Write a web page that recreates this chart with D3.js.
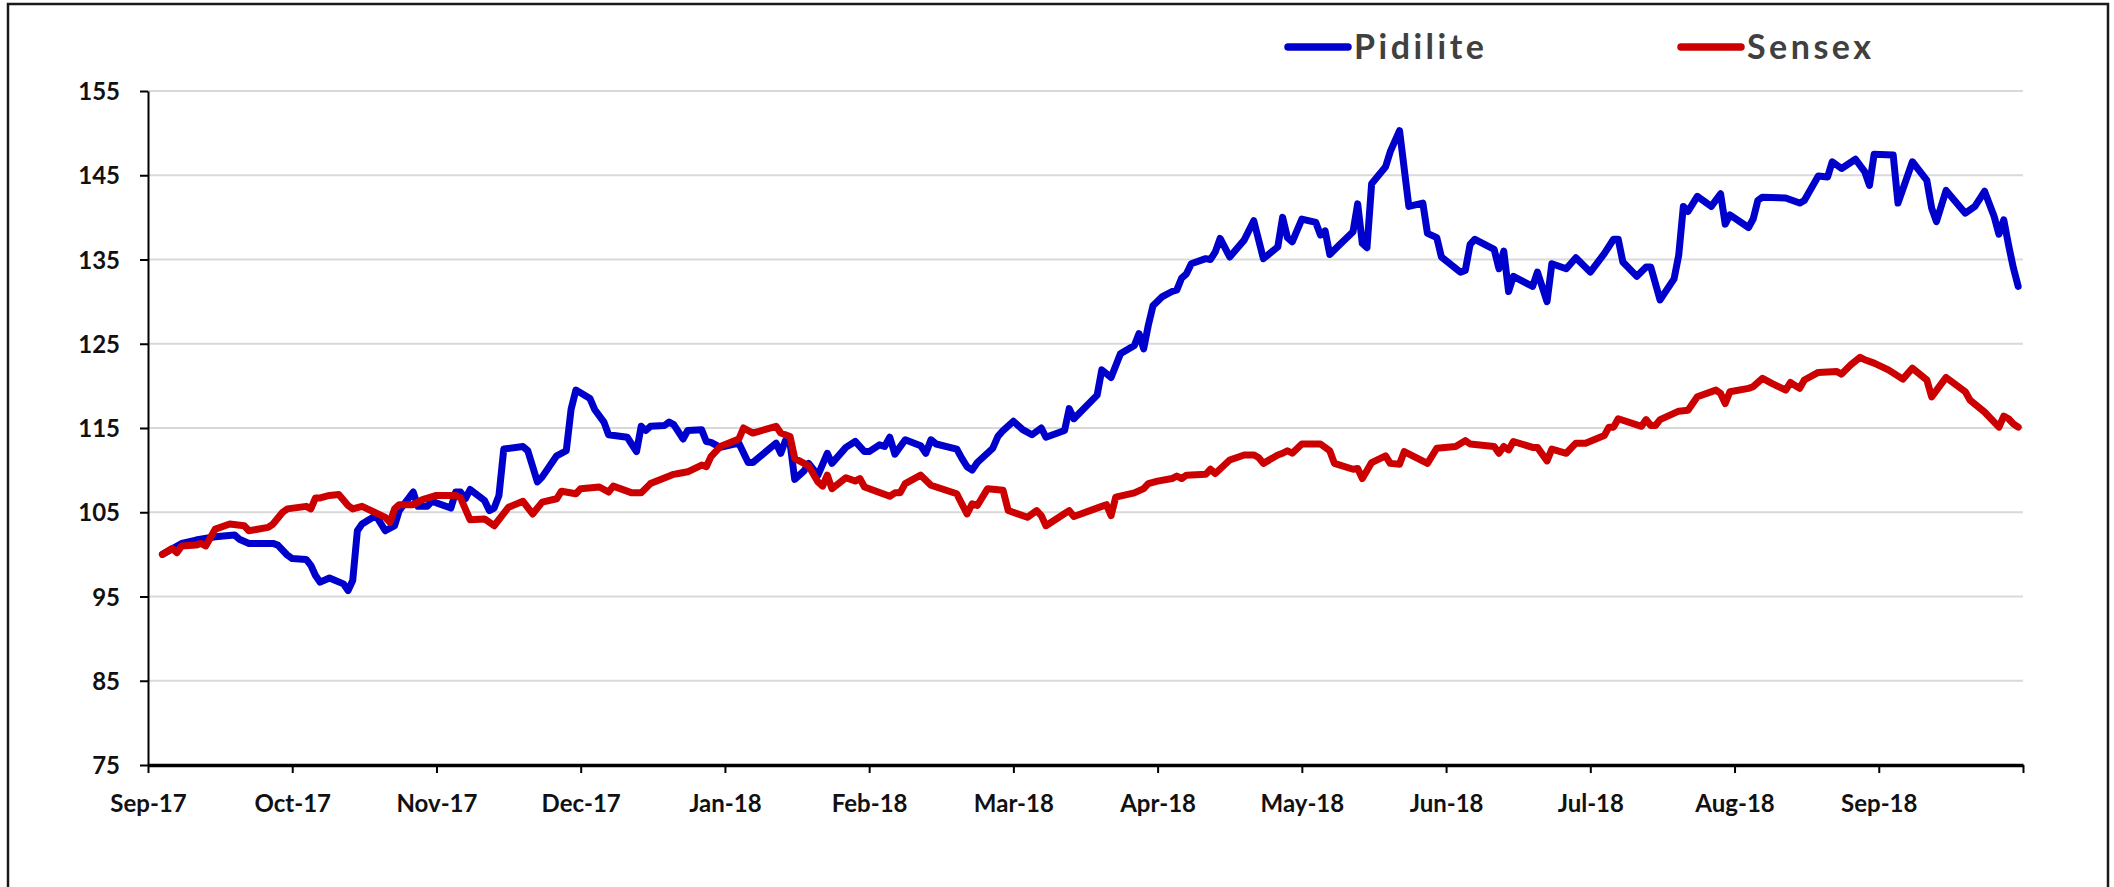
<!DOCTYPE html>
<html>
<head>
<meta charset="utf-8">
<script src="https://cdn.jsdelivr.net/npm/d3@7"></script>
<style>
  body { margin: 0; background: #fff; }
  svg { display: block; font-family: Lato, "Open Sans", sans-serif; }
</style>
</head>
<body>
<div id="chart"></div>
<script>
// Data (rebased to 100), one row per month

const pidiliteDates = [
  '2017-09-04','2017-09-08','2017-09-11','2017-09-15','2017-09-19','2017-09-20','2017-09-22','2017-09-27','2017-09-28','2017-09-30',
  '2017-10-01','2017-10-04','2017-10-05','2017-10-06','2017-10-07','2017-10-09','2017-10-12','2017-10-13','2017-10-14','2017-10-15','2017-10-16','2017-10-19','2017-10-21','2017-10-23','2017-10-24','2017-10-27','2017-10-28','2017-10-30','2017-10-31',
  '2017-11-04','2017-11-05','2017-11-06','2017-11-07','2017-11-08','2017-11-11','2017-11-12','2017-11-13','2017-11-14','2017-11-15','2017-11-19','2017-11-20','2017-11-22','2017-11-23','2017-11-26','2017-11-28','2017-11-29','2017-11-30',
  '2017-12-03','2017-12-04','2017-12-06','2017-12-07','2017-12-11','2017-12-13','2017-12-14','2017-12-15','2017-12-16','2017-12-19','2017-12-20','2017-12-21','2017-12-23','2017-12-24','2017-12-27','2017-12-28','2017-12-29','2017-12-31',
  '2018-01-04','2018-01-06','2018-01-07','2018-01-12','2018-01-13','2018-01-14','2018-01-15','2018-01-16','2018-01-18','2018-01-19','2018-01-21','2018-01-23','2018-01-24','2018-01-27','2018-01-29','2018-01-31',
  '2018-02-01','2018-02-03','2018-02-04','2018-02-05','2018-02-06','2018-02-08','2018-02-11','2018-02-12','2018-02-13','2018-02-14','2018-02-18','2018-02-19','2018-02-20','2018-02-21','2018-02-22','2018-02-25','2018-02-26','2018-02-27',
  '2018-03-01','2018-03-03','2018-03-05','2018-03-07','2018-03-08','2018-03-12','2018-03-13','2018-03-14','2018-03-19','2018-03-20','2018-03-22','2018-03-24','2018-03-27','2018-03-28','2018-03-29','2018-03-30','2018-03-31',
  '2018-04-02','2018-04-04','2018-04-05','2018-04-06','2018-04-07','2018-04-08','2018-04-11','2018-04-12','2018-04-13','2018-04-14','2018-04-16','2018-04-19','2018-04-21','2018-04-23','2018-04-26','2018-04-27','2018-04-28','2018-04-29',
  '2018-05-01','2018-05-04','2018-05-05','2018-05-06','2018-05-07','2018-05-09','2018-05-12','2018-05-13','2018-05-14','2018-05-15','2018-05-16','2018-05-19','2018-05-20','2018-05-22','2018-05-24','2018-05-27','2018-05-28','2018-05-30','2018-05-31',
  '2018-06-04','2018-06-05','2018-06-06','2018-06-07','2018-06-11','2018-06-12','2018-06-13','2018-06-14','2018-06-15','2018-06-19','2018-06-20','2018-06-22','2018-06-23','2018-06-26','2018-06-28',
  '2018-07-01','2018-07-04','2018-07-06','2018-07-07','2018-07-08','2018-07-11','2018-07-13','2018-07-14','2018-07-16','2018-07-19','2018-07-20','2018-07-21','2018-07-22','2018-07-24','2018-07-27','2018-07-29','2018-07-30','2018-07-31',
  '2018-08-04','2018-08-05','2018-08-06','2018-08-07','2018-08-12','2018-08-15','2018-08-16','2018-08-19','2018-08-21','2018-08-22','2018-08-24','2018-08-27','2018-08-29','2018-08-30','2018-08-31',
  '2018-09-04','2018-09-05','2018-09-08','2018-09-11','2018-09-12','2018-09-13','2018-09-15','2018-09-19','2018-09-21','2018-09-23','2018-09-25','2018-09-26','2018-09-27','2018-09-28','2018-09-29','2018-09-30'
];
const pidiliteValues = [
  100.0,101.3,101.7,102.1,102.3,101.8,101.3,101.3,101.1,99.9,
  99.5,99.4,98.7,97.5,96.7,97.2,96.5,95.7,96.9,102.8,103.6,104.6,102.8,103.4,105.2,107.4,105.7,105.7,106.3,
  105.5,107.4,107.4,106.6,107.7,106.4,105.2,105.5,107.0,112.5,112.8,112.3,108.6,109.2,111.7,112.3,117.2,119.5,
  118.5,117.2,115.7,114.2,113.9,112.2,115.2,114.7,115.2,115.3,115.7,115.4,113.7,114.7,114.8,113.4,113.3,112.7,
  113.2,110.9,110.9,113.2,112.0,113.5,113.2,108.9,109.9,110.8,109.4,112.0,110.8,112.7,113.4,112.2,
  112.2,113.0,112.8,113.9,111.9,113.6,112.9,112.0,113.6,113.1,112.5,111.4,110.4,110.0,110.9,112.6,114.0,114.7,
  115.8,114.8,114.2,115.0,113.9,114.7,117.3,116.1,118.9,121.9,121.0,123.8,124.8,126.2,124.4,127.2,129.5,
  130.6,131.2,131.4,132.8,133.3,134.5,135.1,135.0,135.9,137.5,135.3,137.3,139.6,135.1,136.5,140.0,137.6,137.1,
  139.8,139.4,137.9,138.4,135.6,136.7,138.3,141.6,136.9,136.4,144.0,146.0,147.8,150.3,141.3,141.7,138.1,137.6,135.3,
  133.5,133.7,136.8,137.4,136.2,133.9,136.0,131.2,133.0,131.8,133.5,130.0,134.5,133.9,135.2,
  133.5,135.7,137.4,137.4,134.7,133.0,134.1,134.1,130.2,132.7,135.5,141.3,140.7,142.5,141.3,142.8,139.2,140.3,
  138.8,139.8,142.0,142.4,142.3,141.7,142.0,144.9,144.8,146.6,145.8,146.9,145.4,143.8,147.5,
  147.4,141.7,146.6,144.4,141.1,139.5,143.2,140.5,141.3,143.1,140.1,138.0,139.7,136.7,134.0,131.8
];

const sensexDates = [
  '2017-09-04','2017-09-06','2017-09-07','2017-09-08','2017-09-11','2017-09-12','2017-09-13','2017-09-15','2017-09-18','2017-09-21','2017-09-22','2017-09-26','2017-09-27','2017-09-29','2017-09-30',
  '2017-10-04','2017-10-05','2017-10-06','2017-10-07','2017-10-09','2017-10-11','2017-10-13','2017-10-14','2017-10-16','2017-10-21','2017-10-22','2017-10-23','2017-10-24','2017-10-27','2017-10-29',
  '2017-11-01','2017-11-05','2017-11-06','2017-11-08','2017-11-11','2017-11-13','2017-11-16','2017-11-19','2017-11-21','2017-11-23','2017-11-26','2017-11-27','2017-11-30',
  '2017-12-01','2017-12-05','2017-12-07','2017-12-08','2017-12-12','2017-12-14','2017-12-16','2017-12-21','2017-12-22','2017-12-24','2017-12-27','2017-12-28','2017-12-29','2017-12-31',
  '2018-01-04','2018-01-05','2018-01-07','2018-01-12','2018-01-13','2018-01-15','2018-01-16','2018-01-19','2018-01-21','2018-01-22','2018-01-23','2018-01-24','2018-01-27','2018-01-29','2018-01-30','2018-01-31',
  '2018-02-05','2018-02-06','2018-02-07','2018-02-08','2018-02-11','2018-02-13','2018-02-18','2018-02-19','2018-02-20','2018-02-21','2018-02-22','2018-02-24','2018-02-27','2018-02-28',
  '2018-03-04','2018-03-06','2018-03-07','2018-03-08','2018-03-13','2018-03-14','2018-03-20','2018-03-21','2018-03-22','2018-03-23','2018-03-27','2018-03-29','2018-03-30',
  '2018-04-01','2018-04-04','2018-04-05','2018-04-06','2018-04-07','2018-04-11','2018-04-12','2018-04-13','2018-04-16','2018-04-19','2018-04-21','2018-04-22','2018-04-23','2018-04-26','2018-04-27','2018-04-28','2018-04-29',
  '2018-05-01','2018-05-05','2018-05-07','2018-05-08','2018-05-12','2018-05-13','2018-05-14','2018-05-16','2018-05-19','2018-05-20','2018-05-22','2018-05-23','2018-05-28','2018-05-30',
  '2018-06-03','2018-06-05','2018-06-06','2018-06-11','2018-06-12','2018-06-13','2018-06-14','2018-06-15','2018-06-19','2018-06-20','2018-06-22','2018-06-23','2018-06-26','2018-06-28','2018-06-30',
  '2018-07-04','2018-07-05','2018-07-06','2018-07-07','2018-07-12','2018-07-13','2018-07-14','2018-07-15','2018-07-16','2018-07-20','2018-07-22','2018-07-24','2018-07-28','2018-07-29','2018-07-30','2018-07-31',
  '2018-08-04','2018-08-05','2018-08-07','2018-08-09','2018-08-12','2018-08-13','2018-08-15','2018-08-16','2018-08-19','2018-08-23','2018-08-24','2018-08-26','2018-08-28','2018-08-29','2018-08-31',
  '2018-09-03','2018-09-06','2018-09-08','2018-09-11','2018-09-12','2018-09-15','2018-09-19','2018-09-20','2018-09-23','2018-09-26','2018-09-27','2018-09-28','2018-09-29','2018-09-30'
];
const sensexValues = [
  100.0,100.7,100.2,101.0,101.1,101.3,101.0,103.0,103.6,103.4,102.8,103.2,103.6,105.0,105.4,
  105.7,105.4,106.7,106.7,107.0,107.1,105.8,105.4,105.7,104.4,103.8,105.4,105.9,105.9,106.5,
  107.0,107.0,106.7,104.1,104.2,103.4,105.6,106.3,104.8,106.2,106.6,107.5,107.2,
  107.8,108.0,107.4,108.1,107.3,107.3,108.4,109.5,109.6,109.8,110.6,110.4,111.6,112.8,
  113.7,115.0,114.4,115.2,114.4,114.0,111.4,110.5,108.6,108.1,109.4,107.8,109.1,108.7,109.0,108.0,
  106.9,107.3,107.3,108.4,109.4,108.2,107.2,106.0,104.8,106.0,105.8,107.8,107.6,105.2,
  104.4,105.2,104.6,103.4,105.2,104.5,105.7,105.9,104.6,106.8,107.3,107.8,108.4,
  108.7,109.0,109.3,109.0,109.4,109.5,110.1,109.6,111.2,111.8,111.8,111.5,110.8,111.8,112.0,112.3,112.0,
  113.1,113.1,112.3,110.8,110.1,110.2,109.0,110.9,111.7,110.8,110.7,112.2,110.8,112.6,
  112.8,113.5,113.1,112.8,112.0,112.8,112.4,113.4,112.7,112.7,111.1,112.5,112.0,113.2,113.2,
  114.1,115.1,115.1,116.1,115.2,116.0,115.3,115.3,116.0,117.0,117.1,118.7,119.5,119.1,117.9,119.3,
  119.7,119.9,120.9,120.3,119.5,120.4,119.7,120.7,121.6,121.7,121.4,122.5,123.4,123.1,122.7,
  121.9,120.8,122.1,120.7,118.7,121.0,119.3,118.3,116.9,115.1,116.4,116.1,115.5,115.1
];

const yTickValues = [75, 85, 95, 105, 115, 125, 135, 145, 155];
const seriesNames = ['Pidilite', 'Sensex'];
const seriesColors = ['#0000CC', '#CC0000'];

// Layout

const width = 2114;
const height = 887;
const margin = { top: 91, right: 91, bottom: 122, left: 148 };
const chartWidth = width - margin.left - margin.right;
const chartHeight = height - margin.top - margin.bottom;

const parseDate = d3.timeParse('%Y-%m-%d');
const formatMonth = d3.timeFormat('%b-%y');

const series = [
    { name: seriesNames[0], color: seriesColors[0],
      values: d3.zip(pidiliteDates, pidiliteValues).map(([d, v]) => ({ date: parseDate(d), value: v })) },
    { name: seriesNames[1], color: seriesColors[1],
      values: d3.zip(sensexDates, sensexValues).map(([d, v]) => ({ date: parseDate(d), value: v })) }
];

// month boundaries, Sep-17 .. Oct-18; the original axis spaces every month equally
const monthStarts = d3.timeMonth.range(new Date(2017, 8, 1), new Date(2018, 9, 2));

const xScale = d3.scaleTime()
    .domain(monthStarts)
    .range(monthStarts.map((d, i) => i * chartWidth / (monthStarts.length - 1)));
const yScale = d3.scaleLinear()
    .domain([d3.min(yTickValues), d3.max(yTickValues)])
    .range([chartHeight, 0]);

const svg = d3.select('#chart')
    .append('svg')
    .attr('width', width)
    .attr('height', height);

// outer frame (bottom edge falls outside the picture)
svg.append('rect')
    .attr('x', 8)
    .attr('y', 4)
    .attr('width', 2100)
    .attr('height', 920)
    .attr('fill', 'none')
    .attr('stroke', '#1a1a1a')
    .attr('stroke-width', 2.5);

const chart = svg.append('g')
    .attr('transform', `translate(${margin.left},${margin.top})`);

// gridlines
chart.append('g')
    .selectAll('line')
    .data(yTickValues.slice(1))
    .join('line')
    .attr('x1', 0)
    .attr('x2', chartWidth)
    .attr('y1', d => yScale(d))
    .attr('y2', d => yScale(d))
    .attr('stroke', '#d9d9d9')
    .attr('stroke-width', 2);

// y axis
const yAxisG = chart.append('g')
    .call(d3.axisLeft(yScale)
        .tickValues(yTickValues)
        .tickSize(8)
        .tickSizeOuter(0)
        .tickPadding(20));

// x axis
const xAxisG = chart.append('g')
    .attr('transform', `translate(0,${chartHeight})`)
    .call(d3.axisBottom(xScale)
        .tickValues(monthStarts)
        .tickFormat((d, i) => i < monthStarts.length - 1 ? formatMonth(d) : '')
        .tickSize(8)
        .tickSizeOuter(0)
        .tickPadding(22));

[yAxisG, xAxisG].forEach(g => {
    g.attr('font-family', 'Lato, "Open Sans", sans-serif')
        .attr('font-size', 24)
        .attr('font-weight', 'bold');
    g.selectAll('text').attr('fill', '#111');
    g.selectAll('line').attr('stroke', '#000').attr('stroke-width', 2);
    g.select('.domain').attr('stroke', '#000').attr('stroke-width', 2);
});
xAxisG.select('.domain').attr('stroke-width', 3.5);
yAxisG.selectAll('.tick text').attr('dy', '0.36em');

// lines
const line = d3.line()
    .x(d => xScale(d.date))
    .y(d => yScale(d.value));

chart.append('g')
    .selectAll('path')
    .data(series)
    .join('path')
    .attr('d', d => line(d.values))
    .attr('fill', 'none')
    .attr('stroke', d => d.color)
    .attr('stroke-width', 7)
    .attr('stroke-linejoin', 'round')
    .attr('stroke-linecap', 'round');

// legend
const legendX = [1288, 1681];
const legend = svg.append('g')
    .selectAll('g')
    .data(series)
    .join('g')
    .attr('transform', (d, i) => `translate(${legendX[i]},47)`);

legend.append('line')
    .attr('x1', 0)
    .attr('x2', 60)
    .attr('stroke', d => d.color)
    .attr('stroke-width', 7.5)
    .attr('stroke-linecap', 'round');

legend.append('text')
    .attr('x', 66)
    .attr('y', 12)
    .attr('font-size', 34)
    .attr('font-weight', 'bold')
    .attr('letter-spacing', 3.5)
    .attr('fill', '#404040')
    .text(d => d.name);
</script>
</body>
</html>
